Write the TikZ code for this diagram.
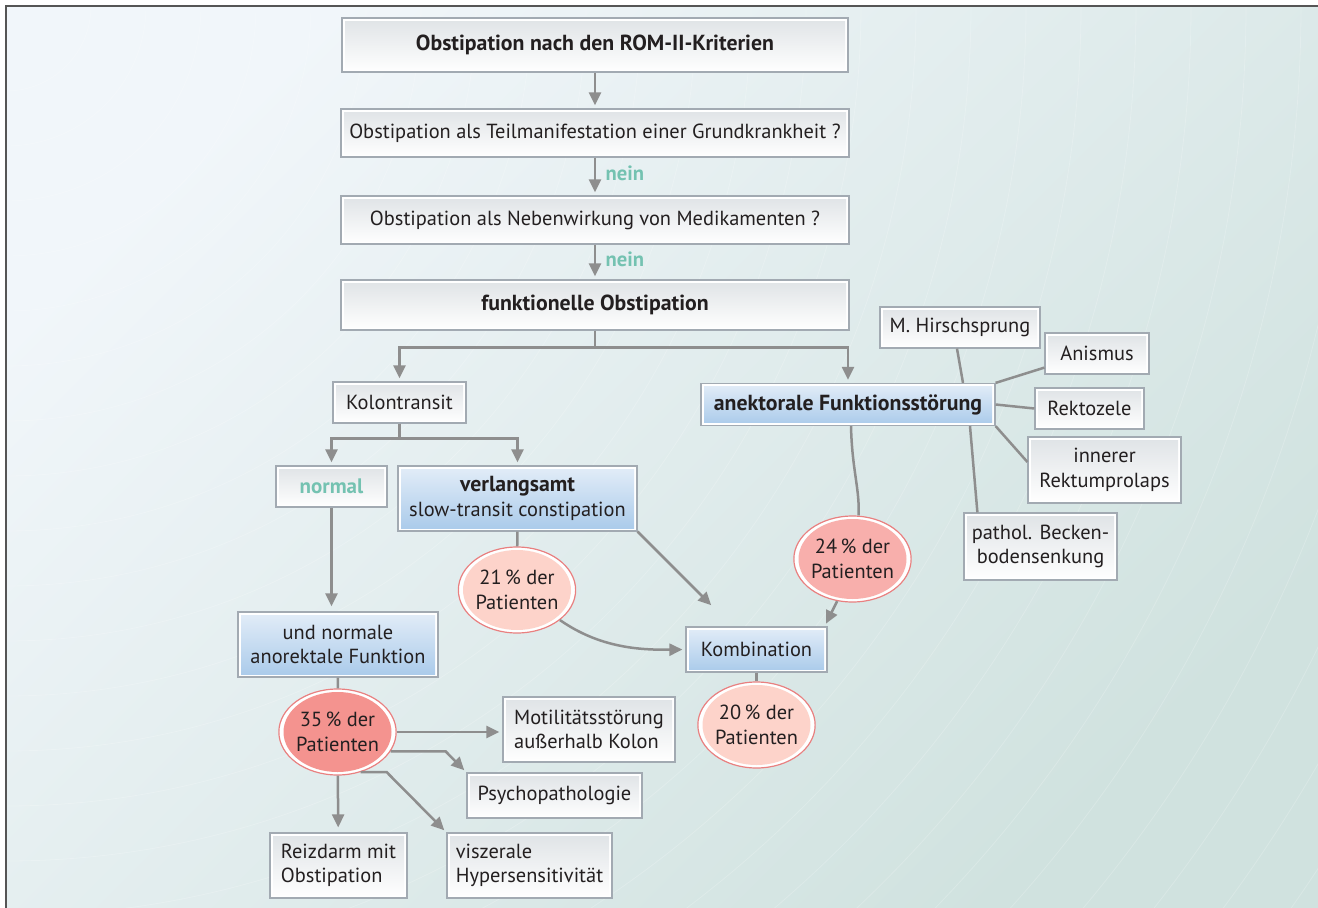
\documentclass[tikz,border=0pt]{standalone}
\usepackage{fontspec}
\setmainfont{PT Sans}
\usepackage{xcolor}
\usetikzlibrary{shapes,arrows.meta}

\definecolor{txt}{HTML}{231F20}
\definecolor{edge}{HTML}{A2AAB2}
\definecolor{arrowgrey}{HTML}{8E8E8E}
\definecolor{neingreen}{HTML}{74C2B1}
\definecolor{greytop}{HTML}{DFE3E6}
\definecolor{bluetop}{HTML}{E3EDF8}
\definecolor{bluebot}{HTML}{A9CAEA}
\definecolor{pinkedge}{HTML}{E98080}
\definecolor{pinklight}{HTML}{FDD3CA}
\definecolor{pinkmid}{HTML}{F8AFAC}
\definecolor{pinkdark}{HTML}{F4938F}
\definecolor{bgtop}{HTML}{F1F6FA}
\definecolor{bgbot}{HTML}{D0E2DF}
\definecolor{framegrey}{HTML}{555555}

\newcommand{\bt}[1]{{\fontsize{21.8}{24.5}\selectfont\bfseries #1}}

\tikzset{
  txtfont/.style={font=\fontsize{20.4}{24.5}\selectfont},
  box/.style={rectangle, draw=edge, line width=1.2pt, fill=white, text=txt, inner sep=2pt, txtfont},
  greybox/.style={box, path picture={\shade[top color=greytop, bottom color=white]
    ([shift={(3pt,-3pt)}]path picture bounding box.north west) rectangle
    ([shift={(-3pt,3pt)}]path picture bounding box.south east);}},
  bluebox/.style={box, path picture={\shade[top color=bluetop, bottom color=bluebot]
    ([shift={(3pt,-3pt)}]path picture bounding box.north west) rectangle
    ([shift={(-3pt,3pt)}]path picture bounding box.south east);}},
  pct/.style={ellipse, draw=pinkedge, line width=1.2pt, fill=white, text=txt, inner sep=0pt,
    minimum width=115pt, minimum height=86pt, align=center, txtfont,
    path picture={\fill[#1] (path picture bounding box.center) ellipse (54pt and 40pt);}},
  arr/.style={draw=arrowgrey, line width=2.5pt, -{Triangle[length=13pt,width=12pt]}, shorten >=3pt},
  link/.style={draw=arrowgrey, line width=2.5pt},
  nein/.style={text=neingreen, font=\fontsize{20.6}{22}\selectfont\bfseries},
  frame/.style={draw=framegrey, line width=1.5pt}
}

\begin{document}
\begin{tikzpicture}[x=1pt,y=-1pt]
	\useasboundingbox (0,0) rectangle (1318,908);
	\fill[white] (0,0) rectangle (1318,908);
	\shade[top color=bgtop, bottom color=bgbot, shading angle=45] (6,6) rectangle (1318,908);
	\begin{scope}
	\clip (6,6) rectangle (1318,908);
	\foreach \r in {85,140,...,1700}
		\draw[white, opacity=0.2, line width=0.8pt] (6,6) circle (\r);
	\end{scope}
	\draw[frame] (6,908) -- (6,6) -- (1318,6);

	% main column
	\node[greybox, minimum width=506pt, minimum height=54pt] (rom) at (595,45) {\bt{Obstipation nach den ROM-II-Kriterien}};
	\node[greybox, minimum width=508pt, minimum height=48pt] (grund) at (595,133) {Obstipation als Teilmanifestation einer Grundkrankheit ?};
	\node[greybox, minimum width=508pt, minimum height=48pt] (medi) at (595,220) {Obstipation als Nebenwirkung von Medikamenten ?};
	\node[greybox, minimum width=508pt, minimum height=50pt] (funk) at (595,305) {\bt{funktionelle Obstipation}};

	\draw[arr] (rom) -- (grund);
	\draw[arr] (grund) -- node[nein, right=6pt, pos=0.42] {nein} (medi);
	\draw[arr] (medi) -- node[nein, right=6pt, pos=0.42] {nein} (funk);

	\node[greybox, minimum width=133pt, minimum height=41pt] (kolon) at (399.5,402.5) {Kolontransit};
	\node[bluebox, minimum width=294pt, minimum height=42pt] (anorekt) at (848,404.5) {\bt{anektorale Funktionsstörung}};

	\draw[arr] (funk.south) -- ++(0,17) -| (kolon.north);
	\draw[arr] (funk.south) -- ++(0,17) -| (anorekt.north);

	% Kolontransit
	\node[greybox, minimum width=111pt, minimum height=41pt] (normal) at (331.5,486.5) {\textcolor{neingreen}{\fontsize{21}{24.5}\selectfont\bfseries normal}};
	\node[bluebox, minimum width=239pt, minimum height=65pt, align=center] (langsam) at (517.5,498.5) {\bt{verlangsamt}\\slow-transit constipation};
	\draw[arr] (kolon.south) -- ++(0,15) -| (normal.north);
	\draw[arr] (kolon.south) -- ++(0,15) -| (langsam.north);

	\node[bluebox, minimum width=200pt, minimum height=65pt, align=center] (unorm) at (338,644.5) {und normale\\anorektale Funktion};
	\draw[arr, shorten >=5pt] (normal.south) -- (normal.south |- unorm.north);

	\node[pct=pinklight] (p21) at (517,590) {21\,\% der\\Patienten};
	\node[pct=pinkmid] (p24) at (852.5,559) {24\,\% der\\Patienten};
	\node[bluebox, minimum width=141pt, minimum height=45pt] (kombi) at (756.5,649.5) {Kombination};
	\node[pct=pinklight] (p20) at (756.5,725) {20\,\% der\\Patienten};
	\node[pct=pinkdark] (p35) at (337.5,732) {35\,\% der\\Patienten};

	\draw[link] (langsam) -- (p21);
	\draw[arr] (p21.-35) .. controls (600,648) and (640,650) .. (kombi.west);
	\draw[arr, shorten >=30pt] (langsam.south east) -- ([xshift=47pt]kombi.north west);
	\draw[link] ([xshift=3pt]anorekt.south) .. controls (852,470) and (860,490) .. ([xshift=6pt]p24.north);
	\draw[arr] (p24.250) -- ([xshift=-3pt]kombi.north east);
	\draw[link] (kombi) -- (p20);
	\draw[link] (unorm) -- (p35);

	% 35 % der Patienten
	\node[greybox, minimum width=172pt, minimum height=65pt, align=left] (moti) at (589,729.5) {Motilitätsstörung\\außerhalb Kolon};
	\node[greybox, minimum width=175pt, minimum height=45pt] (psycho) at (554.5,795.5) {Psychopathologie};
	\node[greybox, minimum width=137pt, minimum height=65pt, align=left] (reiz) at (338.5,865.5) {Reizdarm mit\\Obstipation};
	\node[greybox, minimum width=165pt, minimum height=65pt, align=left] (visz) at (529.5,865.5) {viszerale\\Hypersensitivität};

	\draw[arr] (p35.east) -- (p35.east -| moti.west);
	\draw[arr] (p35.-20) -- ++(55,0) -- (psycho.north west);
	\draw[arr] (p35.-60) -- ++(26,0) -- (visz.north west);
	\draw[arr, shorten >=5pt] (p35) -- (reiz);

	% anorektale Ursachen
	\node[greybox, minimum width=160pt, minimum height=41pt] (hirsch) at (960,327.5) {M. Hirschsprung};
	\node[greybox, minimum width=104pt, minimum height=41pt] (anis) at (1097,353.5) {Anismus};
	\node[greybox, minimum width=109pt, minimum height=41pt] (rekto) at (1089.5,408.5) {Rektozele};
	\node[greybox, minimum width=153pt, minimum height=66pt, align=center] (prolaps) at (1104.5,470) {innerer\\Rektumprolaps};
	\node[greybox, minimum width=153pt, minimum height=67pt, align=center] (becken) at (1040.5,546.5) {pathol. Becken-\\bodensenkung};

	\draw[link] ([xshift=-3pt]hirsch.south) -- ([xshift=115pt]anorekt.north);
	\draw[link] (anorekt.north east) -- ([yshift=7pt]anis.south west);
	\draw[link] (anorekt.east) -- (rekto.west);
	\draw[link] (anorekt.south east) -- ([yshift=8pt]prolaps.west);
	\draw[link] ([xshift=122pt]anorekt.south) -- ([xshift=14pt]becken.north west);
\end{tikzpicture}
\end{document}
